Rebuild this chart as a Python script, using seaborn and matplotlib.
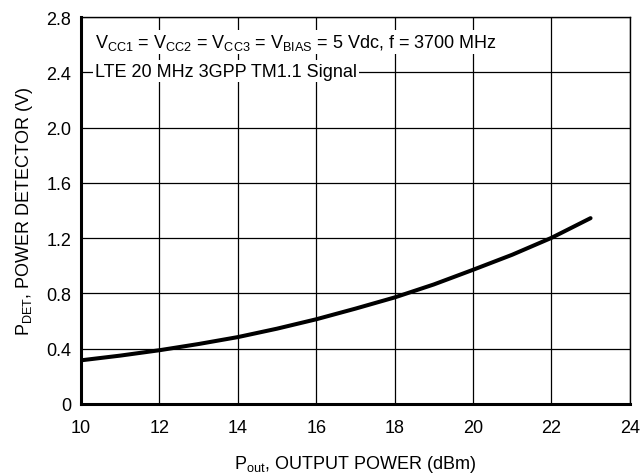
import matplotlib
matplotlib.use("Agg")
import matplotlib.pyplot as plt
import seaborn as sns
import pandas as pd

# curve
pout_dbm = [10, 11, 12, 13, 14, 15, 16, 17, 18, 19, 20, 21, 22, 23]
pdet_v = [0.316, 0.35, 0.389, 0.434, 0.484, 0.545, 0.613, 0.69, 0.771, 0.865, 0.971, 1.08, 1.202, 1.345]

x_ticks = [10, 12, 14, 16, 18, 20, 22, 24]
y_ticks = [0, 0.4, 0.8, 1.2, 1.6, 2.0, 2.4, 2.8]
y_tick_labels = ["0", "0.4", "0.8", "1.2", "1.6", "2.0", "2.4", "2.8"]

note_1 = "V$_{CC1}$ = V$_{CC2}$ = V$_{CC3}$ = V$_{BIAS}$ = 5 Vdc, f = 3700 MHz"
note_2 = "LTE 20 MHz 3GPP TM1.1 Signal"

sns.set_style("white")
plt.rcParams['font.family'] = ['Liberation Sans', 'DejaVu Sans']
plt.rcParams['mathtext.default'] = 'regular'
for k in ['text.color', 'axes.labelcolor', 'xtick.color', 'ytick.color']:
    plt.rcParams[k] = 'black'

df = pd.DataFrame({"pout": pout_dbm, "pdet": pdet_v})

fig = plt.figure(figsize=(6.4, 4.77), dpi=100)
ax = fig.add_axes([0.1266, 0.151, 0.8574, 0.811])

sns.lineplot(data=df, x="pout", y="pdet", color="black", linewidth=2.9, ax=ax)

ax.set_xlim(10, 24)
ax.set_ylim(0, 2.8)
ax.set_xticks(x_ticks)
ax.set_yticks(y_ticks)
ax.set_yticklabels(y_tick_labels)
ax.grid(True, color="black", linewidth=0.9)
ax.set_axisbelow(True)
ax.tick_params(length=0, labelsize=13)
ax.tick_params(axis="x", pad=11)
ax.tick_params(axis="y", pad=7)

for side in ["left", "bottom"]:
    ax.spines[side].set_linewidth(2.2)
for side in ["top", "right"]:
    ax.spines[side].set_linewidth(1.0)
for s in ax.spines.values():
    s.set_color("black")

ax.set_xlabel("P$_{out}$, OUTPUT POWER (dBm)", fontsize=13, labelpad=12)
ax.set_ylabel("P$_{DET}$, POWER DETECTOR (V)", fontsize=13, labelpad=8)

bb = dict(facecolor="white", edgecolor="none", pad=1.5)
ax.text(10.36, 2.62, note_1, fontsize=13, va="center", ha="left", bbox=bb)
ax.text(10.36, 2.41, note_2, fontsize=13, va="center", ha="left", bbox=bb)

fig.savefig("out.png", dpi=100)
